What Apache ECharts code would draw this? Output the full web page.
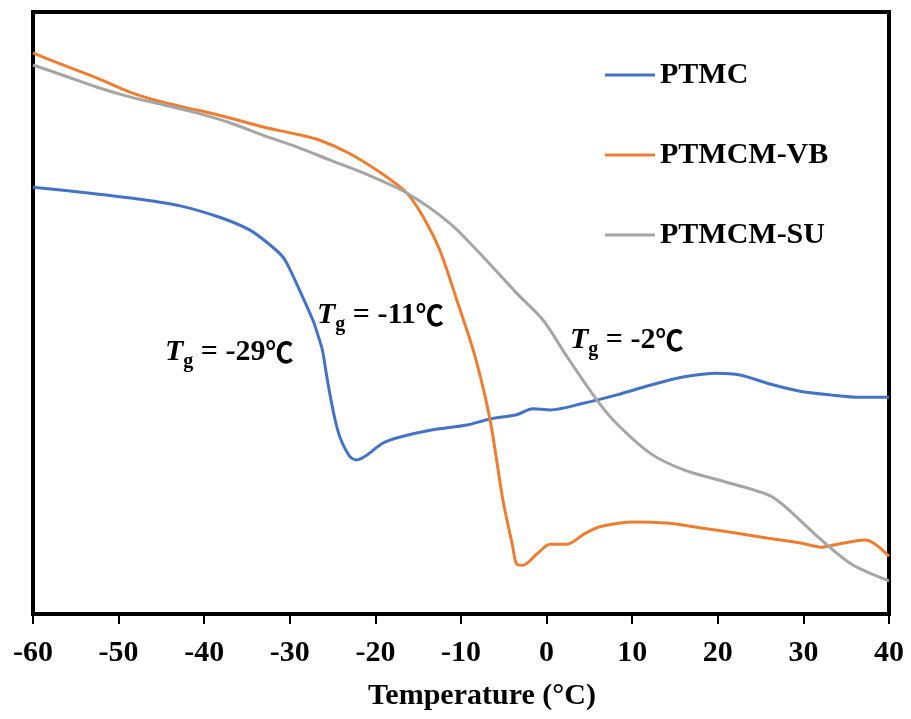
<!DOCTYPE html>
<html>
<head>
<meta charset="utf-8">
<script src="https://cdn.jsdelivr.net/npm/echarts@6/dist/echarts.min.js"></script>
<style>html,body{margin:0;padding:0;background:#fff}#c{width:911px;height:719px}</style>
</head>
<body>
<div id="c"></div>
<script>
const seriesNames = ['PTMC', 'PTMCM-VB', 'PTMCM-SU'];
const xTicks = [-60, -50, -40, -30, -20, -10, 0, 10, 20, 30, 40];

const ptmcT = [-60,-53.3,-47.5,-42.8,-38.2,-34.7,-32.3,-30.8,-30.0,-28.8,-27.3,-26.8,-26.2,-25.8,-25.3,-24.7,-24.1,-23.0,-22.2,-21.2,-19.1,-17.1,-13.3,-9.3,-6.6,-3.5,-1.6,0.4,4.3,8.2,12.1,16.1,19.9,22.6,26.1,29.6,33.1,36.6,40];
const ptmcV = [70.9,69.9,68.9,67.8,65.9,63.8,61.3,59.3,57.3,53.6,48.8,46.7,43.9,40.5,36.4,32.2,29.2,26.2,25.6,26.2,28.4,29.4,30.6,31.4,32.4,33.1,34.1,33.9,35.0,36.4,38.0,39.4,40.0,39.7,38.2,37.0,36.4,36.0,36.0];

const vbT = [-60,-56.5,-52.5,-48.7,-44.8,-40.8,-37.0,-33.1,-29.2,-26.5,-23.3,-19.5,-16.3,-14.4,-12.5,-10.5,-8.4,-6.6,-5.1,-4.0,-3.5,-2.8,-1.1,0.4,2.4,4.4,6.2,10.2,14.1,18.0,21.9,25.9,29.7,32.1,33.7,37.2,38.4,40];
const vbV = [93.2,91.2,89.0,86.7,85.0,83.7,82.4,80.9,79.7,78.7,76.7,73.4,69.9,65.9,60.5,52.2,43.0,32.2,18.9,11.5,8.3,8.1,10.0,11.6,11.6,13.3,14.5,15.3,15.1,14.3,13.5,12.6,11.8,11.1,11.5,12.3,11.6,9.6];

const suT = [-60,-56.5,-52.5,-48.7,-44.8,-40.8,-37.0,-33.1,-29.2,-25.3,-21.5,-16.3,-11.3,-7.4,-3.5,-0.4,2.4,5.9,8.2,12.2,16.1,20.0,25.9,27.9,31.7,35.6,40];
const suV = [91.2,89.5,87.5,85.9,84.6,83.2,81.6,79.5,77.6,75.4,73.3,69.9,64.9,59.3,53.3,48.8,42.7,35.5,31.6,26.6,23.9,22.3,19.8,17.8,12.8,8.3,5.5];

const tgLabels = ['-29', '-11', '-2'];

const zip = (a, b) => a.map((v, i) => [v, b[i]]);
const FONT = '"Liberation Serif", "Times New Roman", serif';
const colors = ['#4472C4', '#ED7D31', '#A5A5A5'];

const chart = echarts.init(document.getElementById('c'));

function tgText(v) {
  return '{T|T}{g|g}{n| = ' + v + '}{c|\u2103}';
}
const rich = {
  T: {fontFamily: FONT, fontSize: 30, fontWeight: 'bold', fontStyle: 'italic', lineHeight: 40, fill: '#000', color: '#000'},
  g: {fontFamily: FONT, fontSize: 20, fontWeight: 'bold', lineHeight: 20, verticalAlign: 'bottom', fill: '#000', color: '#000'},
  n: {fontFamily: FONT, fontSize: 30, fontWeight: 'bold', lineHeight: 40, fill: '#000', color: '#000'},
  c: {fontFamily: '"Noto Sans CJK SC", ' + FONT, fontSize: 28, fontWeight: 'bold', lineHeight: 40, fill: '#000', color: '#000'}
};
const annPos = [[165, 337], [317, 300], [570, 325]];

chart.setOption({
  animation: false,
  backgroundColor: '#fff',
  color: colors,
  grid: {left: 33, right: 22, top: 12, bottom: 105, show: true, borderColor: '#000', borderWidth: 4, backgroundColor: 'transparent'},
  legend: {
    orient: 'vertical', left: 600, top: 55, itemGap: 50,
    icon: 'rect', itemWidth: 50, itemHeight: 3,
    data: seriesNames,
    textStyle: {fontFamily: FONT, fontSize: 30, fontWeight: 'bold', color: '#000'}
  },
  xAxis: {
    type: 'value', min: xTicks[0], max: xTicks[xTicks.length - 1], interval: 10,
    name: 'Temperature (\u00B0C)', nameLocation: 'middle', nameGap: 67,
    nameTextStyle: {fontFamily: FONT, fontSize: 30, fontWeight: 'bold', color: '#000', padding: [0, 0, 0, 42]},
    axisLine: {show: true, lineStyle: {color: '#000', width: 4}},
    axisTick: {show: true, inside: false, length: 10, lineStyle: {color: '#000', width: 2}},
    axisLabel: {margin: 24, fontFamily: FONT, fontSize: 30, fontWeight: 'bold', color: '#000'},
    splitLine: {show: false}
  },
  yAxis: {type: 'value', min: 0, max: 100, show: false, splitLine: {show: false}},
  series: [
    {name: seriesNames[0], type: 'line', data: zip(ptmcT, ptmcV)},
    {name: seriesNames[1], type: 'line', data: zip(vbT, vbV)},
    {name: seriesNames[2], type: 'line', data: zip(suT, suV)}
  ].map(s => Object.assign(s, {smooth: 0.3, showSymbol: false, symbol: 'none', lineStyle: {width: 3}})),
  graphic: tgLabels.map((v, i) => ({
    type: 'text', left: annPos[i][0], top: annPos[i][1], z: 100,
    style: {text: tgText(v), rich: rich, fill: '#000'}
  }))
});
</script>
</body>
</html>
